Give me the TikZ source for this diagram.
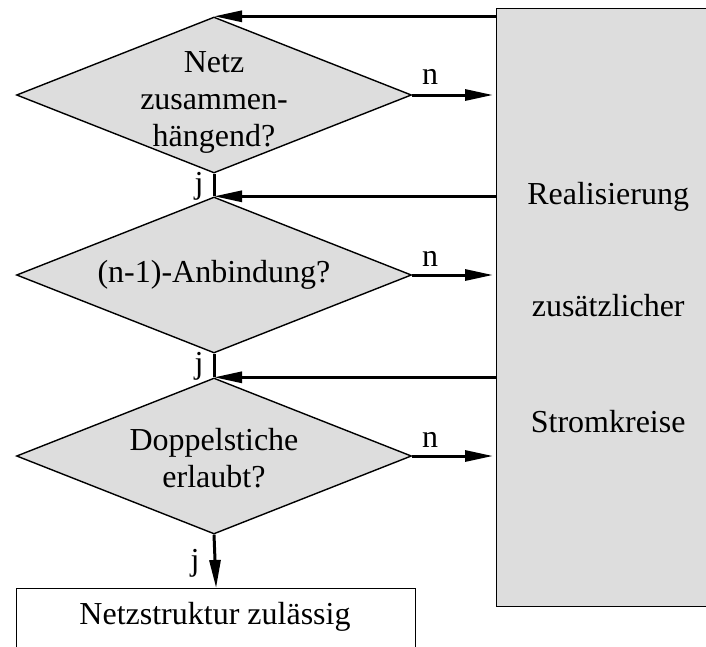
\documentclass[tikz,border=0pt]{standalone}
\usepackage{fontspec}
\setmainfont{Liberation Serif}
\usetikzlibrary{shapes.geometric,arrows.meta}
\definecolor{boxgray}{HTML}{DDDDDD}
\tikzset{
  decision/.style={diamond, draw=black, line width=1.4pt, fill=boxgray,
    minimum width=395pt, minimum height=156pt, inner sep=0pt},
  txt/.style={font=\fontsize{32}{37}\selectfont, align=center, inner sep=0pt},
  flow/.style={line width=3pt},
  flowarrow/.style={line width=3pt, -{Triangle[length=28pt,width=11pt]}},
  tag/.style={font=\fontsize{32}{36}\selectfont, inner sep=0pt},
}
\begin{document}
\begin{tikzpicture}[x=1pt,y=-1pt]
\useasboundingbox (0,0) rectangle (706,646);

% side block with the additional circuits
\node[draw=black, line width=1.4pt, fill=boxgray, anchor=north west,
      minimum width=223pt, minimum height=598pt, inner sep=0pt,
      font=\fontsize{32}{36}\selectfont, align=center] (box) at (496,8)
  {Realisierung\\[76pt]zusätzlicher\\[80pt]Stromkreise};

% decisions
\node[decision, label={[txt, yshift=-7pt]center:Netz\\zusammen-\\hängend?}] (d1) at (214,95) {};
\node[decision, label={[txt]center:(n-1)-Anbindung?}] (d2) at (214,275) {};
\node[decision, label={[txt, yshift=-2pt]center:Doppelstiche\\erlaubt?}] (d3) at (214,456) {};

% result
\node[draw=black, line width=1.2pt, fill=white, anchor=north west,
      minimum width=399pt, minimum height=80pt, inner sep=0pt] (ok) at (16,588) {};
\node[txt] (oktext) at (215,617) {Netzstruktur zulässig};

% yes paths
\draw[flow] (d1.south) -- (d2.north);
\draw[flow] (d2.south) -- (d3.north);
\draw[flowarrow] (d3.south) -- (ok.north);
\node[tag] (j1) at (199,186) {j};
\node[tag] (j2) at (199,366) {j};
\node[tag] (j3) at (195,563) {j};

% no paths
\draw[flowarrow, shorten >=3pt] (d1.east) -- (box.west |- d1.east);
\draw[flowarrow, shorten >=3pt] (d2.east) -- (box.west |- d2.east);
\draw[flowarrow, shorten >=3pt] (d3.east) -- (box.west |- d3.east);
\node[tag] (n1) at (430,77) {n};
\node[tag] (n2) at (430,259) {n};
\node[tag] (n3) at (430,440) {n};

% returns from the side block
\draw[flowarrow] (box.west |- d1.north) -- (d1.north);
\draw[flowarrow] (box.west |- d2.north) -- (d2.north);
\draw[flowarrow] (box.west |- d3.north) -- (d3.north);
\end{tikzpicture}
\end{document}
